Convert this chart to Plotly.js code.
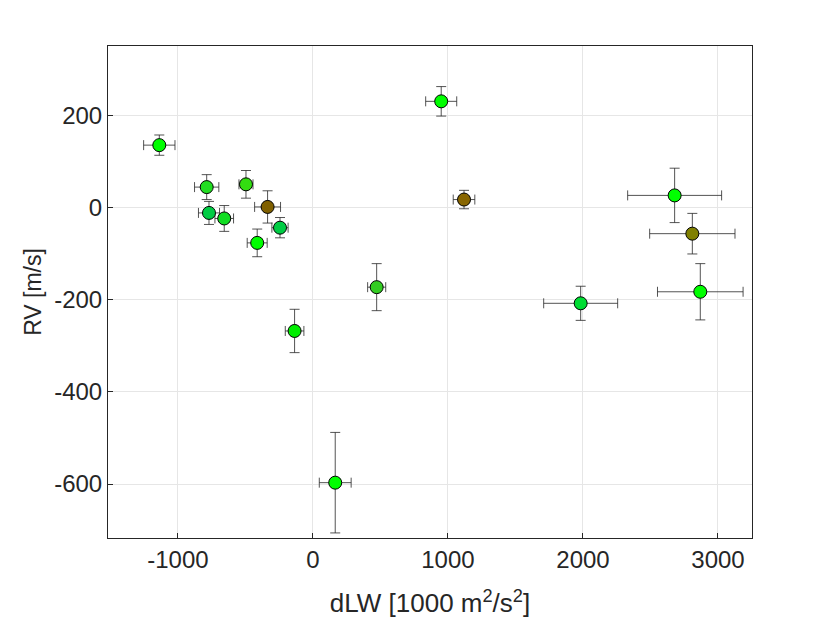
<!DOCTYPE html>
<html>
<head>
<meta charset="utf-8">
<script src="https://cdn.plot.ly/plotly-3.0.1.min.js"></script>
<style>html,body{margin:0;padding:0;background:#fff;}#chart{width:830px;height:620px;}</style>
</head>
<body>
<div id="chart"></div>
<script>
// dLW [1000 m^2/s^2]
const dLW    = [-1138, -787, -770, -657, -496, -336, -244, -413, -136, 165, 472, 950, 1119, 2679, 2810, 2869, 1983];
const dLWerr = [  116,   90,   78,   69,   52,   96,   60,   74,   69, 118,  67, 115,   80,  348,  316,  317,  274];
// RV [m/s]
const RV     = [  135,   44,  -12,  -24,   50,    1,  -44,  -77, -268, -597, -173, 230,   17,   26,  -57, -183, -208];
const RVerr  = [   22,   27,   25,   28,   30,   35,   22,   30,   47,  109,   51,  32,   20,   59,   44,   61,   37];
const colors = ['#00ff00','#22dd22','#00cc44','#11dd22','#33dd11','#806000','#00cc44','#00ff00','#00ee00','#00ff00','#33cc22','#00ff00','#886600','#00ff00','#808000','#00ff00','#00dd33'];

const xTickVals = [-1000, 0, 1000, 2000, 3000];
const xTickText = ['-1000', '0', '1000', '2000', '3000'];
const yTickVals = [-600, -400, -200, 0, 200];
const yTickText = ['-600', '-400', '-200', '0', '200'];

const trace = {
  x: dLW, y: RV, type: 'scatter', mode: 'markers',
  error_x: {type: 'data', array: dLWerr, visible: true, color: 'rgba(40,40,40,0.8)', thickness: 1, width: 5},
  error_y: {type: 'data', array: RVerr, visible: true, color: 'rgba(40,40,40,0.8)', thickness: 1, width: 5},
  marker: {size: 13, color: colors, line: {color: '#000', width: 1}},
  hoverinfo: 'x+y'
};

const fontFam = '"Liberation Sans", Arial, Helvetica, sans-serif';
const layout = {
  width: 830, height: 620,
  margin: {l: 108, r: 78, t: 46, b: 82},
  paper_bgcolor: '#fff', plot_bgcolor: '#fff',
  showlegend: false,
  font: {family: fontFam, color: '#262626'},
  xaxis: {
    range: [-1518, 3252], tickvals: xTickVals, ticktext: xTickText,
    ticks: 'inside', ticklen: 5, tickcolor: '#262626', tickwidth: 1,
    showline: true, linecolor: '#262626', linewidth: 1, mirror: true,
    showgrid: true, gridcolor: '#e6e6e6', gridwidth: 1, zeroline: false,
    tickfont: {size: 24, color: '#262626'},
    title: {text: 'dLW [1000 m<sup>2</sup>/s<sup>2</sup>]', font: {size: 26, color: '#262626'}, standoff: 22}
  },
  yaxis: {
    range: [-717, 350], tickvals: yTickVals, ticktext: yTickText,
    ticks: 'inside', ticklen: 5, tickcolor: '#262626', tickwidth: 1,
    showline: true, linecolor: '#262626', linewidth: 1, mirror: true,
    showgrid: true, gridcolor: '#e6e6e6', gridwidth: 1, zeroline: false,
    tickfont: {size: 24, color: '#262626'},
    title: {text: 'RV [m/s]', font: {size: 23, color: '#262626'}, standoff: 6}
  }
};

Plotly.newPlot('chart', [trace], layout, {displayModeBar: false, staticPlot: true});
</script>
</body>
</html>
